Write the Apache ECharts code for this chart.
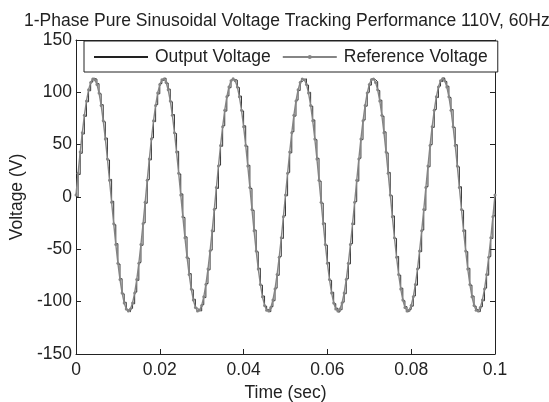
<!DOCTYPE html>
<html>
<head>
<meta charset="utf-8">
<script src="https://cdn.jsdelivr.net/npm/echarts@6/dist/echarts.min.js"></script>
<style>html,body{margin:0;padding:0;background:#fff}#c{width:549px;height:402px}</style>
</head>
<body>
<div id="c"></div>
<script>
var titleText = '1-Phase Pure Sinusoidal Voltage Tracking Performance 110V, 60Hz';
var seriesNames = ['Output Voltage', 'Reference Voltage'];
var xTicks = [0, 0.02, 0.04, 0.06, 0.08, 0.1];
var yTicks = [-150, -100, -50, 0, 50, 100, 150];

var timeSec = [
0,0.0005,0.001,0.0015,0.002,0.0025,0.003,0.0035,0.004,0.0045,
0.005,0.0055,0.006,0.0065,0.007,0.0075,0.008,0.0085,0.009,0.0095,
0.01,0.0105,0.011,0.0115,0.012,0.0125,0.013,0.0135,0.014,0.0145,
0.015,0.0155,0.016,0.0165,0.017,0.0175,0.018,0.0185,0.019,0.0195,
0.02,0.0205,0.021,0.0215,0.022,0.0225,0.023,0.0235,0.024,0.0245,
0.025,0.0255,0.026,0.0265,0.027,0.0275,0.028,0.0285,0.029,0.0295,
0.03,0.0305,0.031,0.0315,0.032,0.0325,0.033,0.0335,0.034,0.0345,
0.035,0.0355,0.036,0.0365,0.037,0.0375,0.038,0.0385,0.039,0.0395,
0.04,0.0405,0.041,0.0415,0.042,0.0425,0.043,0.0435,0.044,0.0445,
0.045,0.0455,0.046,0.0465,0.047,0.0475,0.048,0.0485,0.049,0.0495,
0.05,0.0505,0.051,0.0515,0.052,0.0525,0.053,0.0535,0.054,0.0545,
0.055,0.0555,0.056,0.0565,0.057,0.0575,0.058,0.0585,0.059,0.0595,
0.06,0.0605,0.061,0.0615,0.062,0.0625,0.063,0.0635,0.064,0.0645,
0.065,0.0655,0.066,0.0665,0.067,0.0675,0.068,0.0685,0.069,0.0695,
0.07,0.0705,0.071,0.0715,0.072,0.0725,0.073,0.0735,0.074,0.0745,
0.075,0.0755,0.076,0.0765,0.077,0.0775,0.078,0.0785,0.079,0.0795,
0.08,0.0805,0.081,0.0815,0.082,0.0825,0.083,0.0835,0.084,0.0845,
0.085,0.0855,0.086,0.0865,0.087,0.0875,0.088,0.0885,0.089,0.0895,
0.09,0.0905,0.091,0.0915,0.092,0.0925,0.093,0.0935,0.094,0.0945,
0.095,0.0955,0.096,0.0965,0.097,0.0975,0.098,0.0985,0.099,0.0995,
0.1
];

var referenceVoltage = [
2,22.8,42.9,61.5,78,91.8,102.4,109.5,112.8,112.1,
107.6,99.3,87.5,72.8,55.5,36.3,15.9,-5,-25.6,-45.3,
-63.2,-78.9,-91.7,-101.2,-107,-109,-107,-101.2,-91.7,-78.9,
-63.2,-45.3,-25.6,-5,15.9,36.3,55.5,72.8,87.5,99.3,
107.6,112.1,112.8,109.5,102.4,91.8,78,61.5,42.9,22.8,
2,-18.8,-38.9,-57.5,-74,-87.8,-98.4,-105.5,-108.8,-108.1,
-103.6,-95.3,-83.5,-68.8,-51.5,-32.3,-11.9,9,29.6,49.3,
67.2,82.9,95.7,105.2,111,113,111,105.2,95.7,82.9,
67.2,49.3,29.6,9,-11.9,-32.3,-51.5,-68.8,-83.5,-95.3,
-103.6,-108.1,-108.8,-105.5,-98.4,-87.8,-74,-57.5,-38.9,-18.8,
2,22.8,42.9,61.5,78,91.8,102.4,109.5,112.8,112.1,
107.6,99.3,87.5,72.8,55.5,36.3,15.9,-5,-25.6,-45.3,
-63.2,-78.9,-91.7,-101.2,-107,-109,-107,-101.2,-91.7,-78.9,
-63.2,-45.3,-25.6,-5,15.9,36.3,55.5,72.8,87.5,99.3,
107.6,112.1,112.8,109.5,102.4,91.8,78,61.5,42.9,22.8,
2,-18.8,-38.9,-57.5,-74,-87.8,-98.4,-105.5,-108.8,-108.1,
-103.6,-95.3,-83.5,-68.8,-51.5,-32.3,-11.9,9,29.6,49.3,
67.2,82.9,95.7,105.2,111,113,111,105.2,95.7,82.9,
67.2,49.3,29.6,9,-11.9,-32.3,-51.5,-68.8,-83.5,-95.3,
-103.6,-108.1,-108.8,-105.5,-98.4,-87.8,-74,-57.5,-38.9,-18.8,
2
];

var outputVoltage = [
0,21.5,41.8,60.2,77.1,91.0,101.5,109.8,113.4,112.6,
108.3,98.7,88.2,71.9,56.3,35.4,16.8,-4.1,-26.5,-44.6,
-64.0,-78.1,-92.5,-100.6,-107.8,-109.6,-106.4,-102.0,-90.9,-79.6,
-62.5,-46.1,-24.8,-5.9,16.7,35.5,56.4,72.0,88.3,98.6,
108.4,111.5,113.5,108.9,103.1,91.0,78.8,60.7,43.6,22.0,
2.9,-19.6,-38.1,-58.3,-73.2,-88.6,-97.7,-106.2,-108.1,-108.9,
-102.9,-96.1,-82.8,-69.6,-50.8,-33.1,-11.2,8.2,30.4,48.5,
68.0,82.1,96.5,104.4,111.8,112.3,111.7,104.6,96.4,82.2,
68.0,48.6,30.3,8.1,-12.7,-31.6,-52.3,-68.1,-84.2,-94.6,
-104.3,-107.4,-109.5,-104.8,-99.1,-87.1,-74.8,-56.8,-39.6,-18.1,
1.2,23.5,42.2,62.3,77.3,92.5,101.7,110.3,112.1,112.9,
106.9,100.0,86.8,73.6,54.8,37.0,15.2,-5.8,-24.9,-46.0,
-62.5,-79.6,-91.0,-101.9,-106.3,-109.8,-107.7,-100.5,-92.4,-78.2,
-63.9,-44.6,-26.3,-4.3,15.2,37.0,54.8,73.5,86.8,100.0,
106.9,112.8,112.1,110.2,101.7,92.5,77.3,62.2,42.2,23.5,
1.3,-18.1,-39.6,-56.8,-74.7,-87.1,-99.1,-104.8,-109.5,-107.4,
-104.3,-94.6,-84.2,-68.1,-52.2,-31.6,-12.6,9.8,28.9,50.0,
66.5,83.6,95.0,105.9,110.3,113.7,110.3,105.9,95.0,83.6,
66.5,50.0,28.9,9.8,-12.6,-31.6,-52.2,-68.1,-84.2,-94.6,
-104.3,-107.4,-109.5,-104.8,-99.1,-87.1,-74.7,-56.8,-39.6,-18.1,
2.5
];

function pairs(xs, ys) { var out = []; for (var i = 0; i < xs.length; i++) out.push([xs[i], ys[i]]); return out; }

var FONT = 'Liberation Sans, Arial, sans-serif';
var FS = 17.5;
var chart = echarts.init(document.getElementById('c'), null, { renderer: 'canvas' });
var xMin = xTicks[0], xMax = xTicks[xTicks.length - 1], xInt = xTicks[1] - xTicks[0];
var yMin = yTicks[0], yMax = yTicks[yTicks.length - 1], yInt = yTicks[1] - yTicks[0];
function fmtX(v) { return String(parseFloat(v.toFixed(4))); }
var axisLineStyle = { color: '#222', width: 1 };

chart.setOption({
  animation: false,
  backgroundColor: '#fff',
  title: {
    text: titleText, left: 19, top: 7,
    textStyle: { fontFamily: FONT, fontSize: FS, fontWeight: 'normal', color: '#222' }
  },
  legend: {
    data: [
      { name: seriesNames[0], itemStyle: { opacity: 0 } },
      { name: seriesNames[1] }
    ],
    left: 84, top: 41,
    padding: [7, 10, 6, 9],
    itemWidth: 54, itemHeight: 5, itemGap: 11,
    borderColor: '#222', borderWidth: 1, backgroundColor: '#fff',
    textStyle: { fontFamily: FONT, fontSize: FS, color: '#222', padding: [0, 0, 0, 2] }
  },
  grid: { left: 76, right: 54, top: 40, bottom: 48, containLabel: false, outerBoundsMode: 'none' },
  xAxis: [{
    type: 'value', min: xMin, max: xMax, interval: xInt,
    name: 'Time (sec)', nameLocation: 'middle', nameGap: 12,
    nameTextStyle: { fontFamily: FONT, fontSize: FS, color: '#222' },
    axisLine: { show: true, onZero: false, lineStyle: axisLineStyle },
    axisTick: { show: true, inside: true, length: 5, lineStyle: axisLineStyle },
    axisLabel: { fontFamily: FONT, fontSize: FS, color: '#222', margin: 7, formatter: fmtX },
    splitLine: { show: false }
  }, {
    type: 'value', position: 'top', min: xMin, max: xMax, interval: xInt,
    axisLine: { show: true, onZero: false, lineStyle: axisLineStyle },
    axisTick: { show: true, inside: true, length: 5, lineStyle: axisLineStyle },
    axisLabel: { show: false }, splitLine: { show: false }
  }],
  yAxis: [{
    type: 'value', min: yMin, max: yMax, interval: yInt,
    name: 'Voltage (V)', nameLocation: 'middle', nameGap: 49,
    nameTextStyle: { fontFamily: FONT, fontSize: FS, color: '#222' },
    axisLine: { show: true, onZero: false, lineStyle: axisLineStyle },
    axisTick: { show: true, inside: true, length: 5, lineStyle: axisLineStyle },
    axisLabel: { fontFamily: FONT, fontSize: FS, color: '#222', margin: 4 },
    splitLine: { show: false }
  }, {
    type: 'value', position: 'right', min: yMin, max: yMax, interval: yInt,
    axisLine: { show: true, onZero: false, lineStyle: axisLineStyle },
    axisTick: { show: true, inside: true, length: 5, lineStyle: axisLineStyle },
    axisLabel: { show: false }, splitLine: { show: false }
  }],
  series: [{
    name: seriesNames[0], type: 'line', xAxisIndex: 0, yAxisIndex: 0,
    data: pairs(timeSec, outputVoltage), step: 'end',
    symbol: 'none',
    lineStyle: { color: '#222', width: 0.9 }, itemStyle: { color: '#222' }, z: 2
  }, {
    name: seriesNames[1], type: 'line', xAxisIndex: 0, yAxisIndex: 0,
    data: pairs(timeSec, referenceVoltage),
    symbol: 'circle', symbolSize: 3, showSymbol: true, showAllSymbol: true,
    lineStyle: { color: '#858585', width: 1.4 }, itemStyle: { color: '#858585' }, z: 3
  }]
});
</script>
</body>
</html>
